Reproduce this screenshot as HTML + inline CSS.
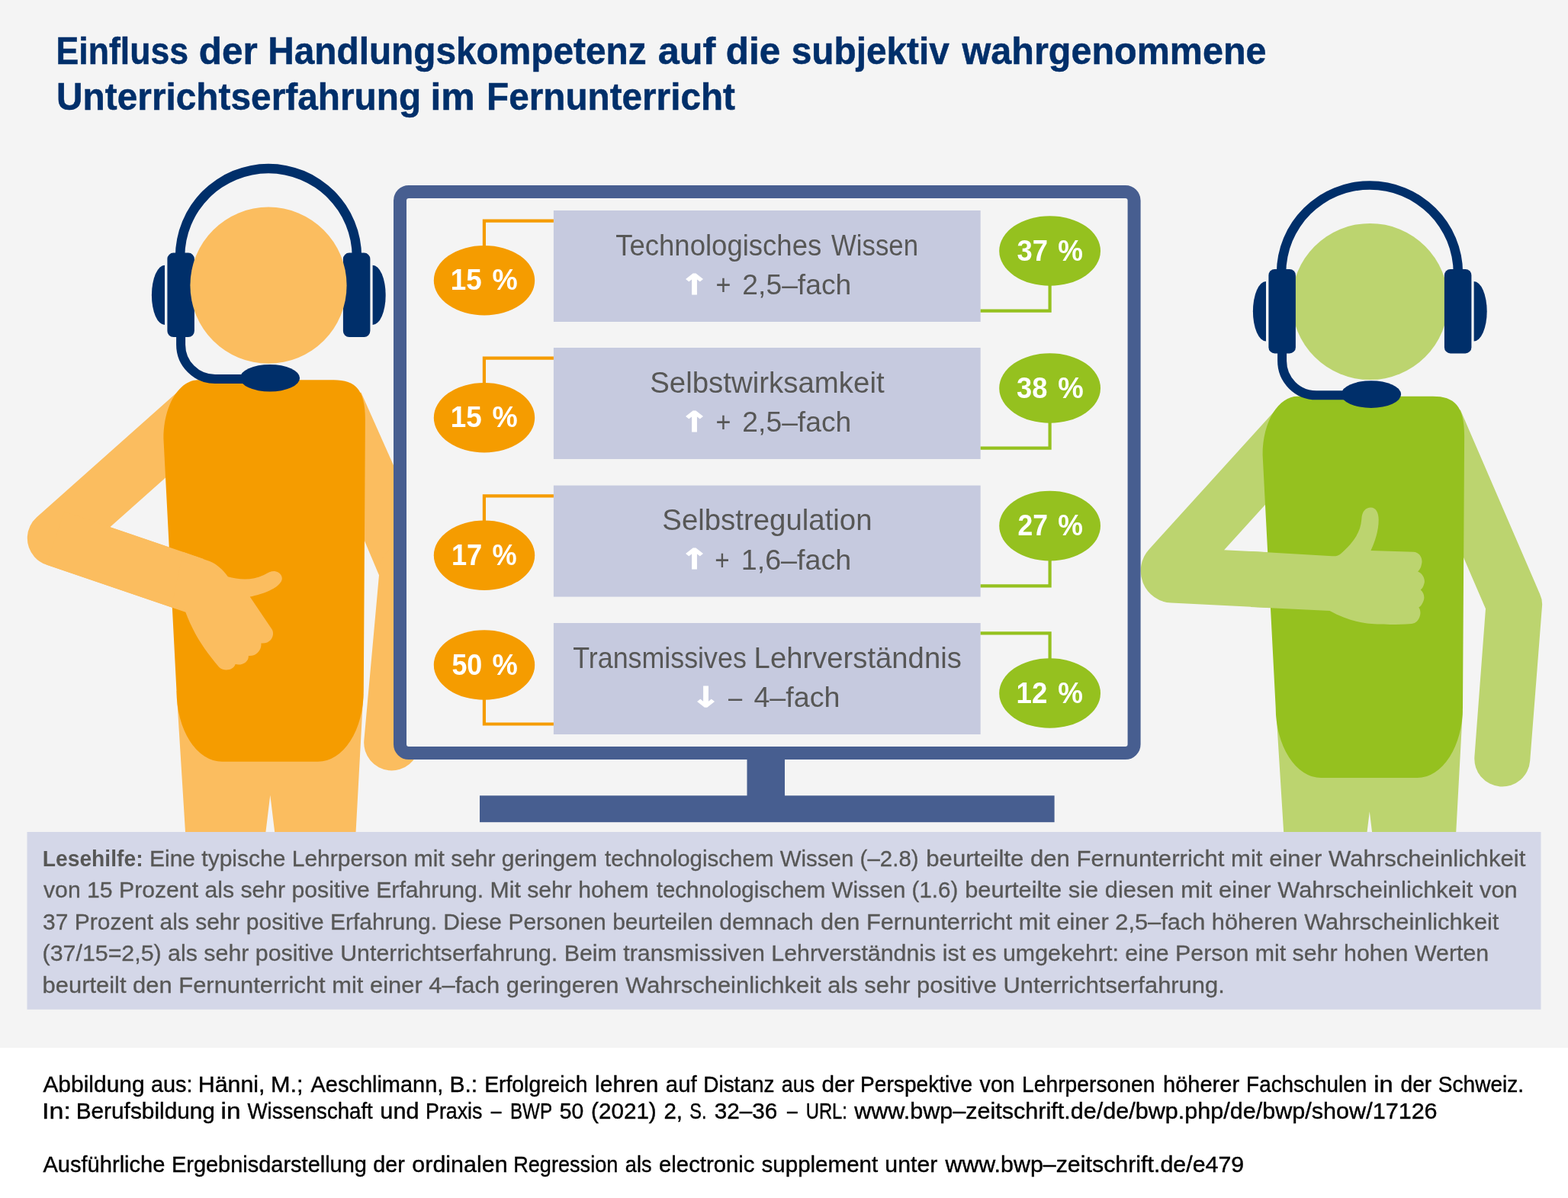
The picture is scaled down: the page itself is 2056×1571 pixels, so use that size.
<!DOCTYPE html>
<html lang="de">
<head>
<meta charset="utf-8">
<title>Einfluss der Handlungskompetenz auf die subjektiv wahrgenommene Unterrichtserfahrung im Fernunterricht</title>
<style>
html,body{margin:0;padding:0;background:#fff;}
body{width:2056px;height:1571px;overflow:hidden;position:relative;font-family:"Liberation Sans",sans-serif;}
svg{display:block;position:absolute;left:0;top:0;}
svg text{font-family:"Liberation Sans",sans-serif;white-space:pre;}
svg text.arr{font-family:"DejaVu Sans","Liberation Sans",sans-serif;font-weight:bold;fill:#fff;}
</style>
</head>
<body>
<svg width="2056" height="1571" viewBox="0 0 2056 1571">
<rect x="0" y="0" width="2056" height="1374" fill="#f4f4f4"/>

<g id="title">
<text y="83.9" font-size="50.2" font-weight="bold" fill="#002f6a" stroke="#002f6a" stroke-width="0.5"><tspan x="73.51" textLength="173.5" lengthAdjust="spacingAndGlyphs">Einfluss</tspan> <tspan x="260.75" textLength="77.05" lengthAdjust="spacingAndGlyphs">der</tspan> <tspan x="351.21" textLength="496.38" lengthAdjust="spacingAndGlyphs">Handlungskompetenz</tspan> <tspan x="862.71" textLength="75.55" lengthAdjust="spacingAndGlyphs">auf</tspan> <tspan x="951.75" textLength="71.58" lengthAdjust="spacingAndGlyphs">die</tspan> <tspan x="1037.71" textLength="207.09" lengthAdjust="spacingAndGlyphs">subjektiv</tspan> <tspan x="1261.56" textLength="398.95" lengthAdjust="spacingAndGlyphs">wahrgenommene</tspan></text>
<text y="143.8" font-size="50.2" font-weight="bold" fill="#002f6a" stroke="#002f6a" stroke-width="0.5"><tspan x="74.06" textLength="478.1" lengthAdjust="spacingAndGlyphs">Unterrichtserfahrung</tspan> <tspan x="564.38" textLength="58.27" lengthAdjust="spacingAndGlyphs">im</tspan> <tspan x="638.12" textLength="325.81" lengthAdjust="spacingAndGlyphs">Fernunterricht</tspan></text>
</g>
<g id="person-left">
<path d="M231.5 906L244.8 1120H344.9L354.3 1042.8L363.7 1120H465L476.4 910L440 900Z" fill="#fbbd5f"/>
<path d="M445 520L473.5 514.8L582.7 760L497 754.3L478.3 710.1L450 643Z" fill="#fbbd5f"/>
<path d="M534.1 748.2L513.6 974" fill="none" stroke="#fbbd5f" stroke-width="72.8" stroke-linecap="round"/>
<path d="M268.4 531.5L72.6 705.7L252.5 766.9" fill="none" stroke="#fbbd5f" stroke-width="73.6" stroke-linejoin="round"/>
<path d="M260 498.3H437.5C466 498.3 478.9 511 478.9 550L476.8 906.3A59.7 92.4 0 0 1 417.1 998.7H291A59.5 92.4 0 0 1 231.5 906.3L214.4 575C214.4 530 236 498.3 260 498.3Z" fill="#f59c00"/>
<path d="M72.6 705.7L255.1 767.8" fill="none" stroke="#fbbd5f" stroke-width="73.6"/>
<path d="M240 723.8L274.9 736.1C284 739.5 292 747 298.9 756.2C312 760 330 762 346 754C352 750.5 357 748.5 361 749.2C368 750.5 371.5 757 369 762C364 772 345 779 327.7 782.6L356.4 825C361 832 356 845 342.4 843.5C343.5 852 336 861 325.9 860C326 868 318 873 308.6 871.1C306 880 292 880.5 286.9 874.5C266.8 850.4 253.5 830.4 242.8 801.6L225 795.5Z" fill="#fbbd5f"/>
<g transform="translate(0,0)" fill="#002f6a"><path d="M229.8 340V337A122.2 122.2 0 0 1 474.2 337V340H461.7V337A109.7 109.7 0 0 0 242.3 337V340Z"/><rect x="219.4" y="331.6" width="35.5" height="110.5" rx="8" ry="8"/><rect x="449.9" y="331.6" width="35.5" height="110.5" rx="8" ry="8"/><path d="M216 347.8A17.1 39.15 0 0 0 216 426.1Z"/><path d="M488.6 347.8A17.1 39.15 0 0 1 488.6 426.1Z"/><path d="M237.1 438V452A45 45.05 0 0 0 282.1 497.05H330" fill="none" stroke="#002f6a" stroke-width="12"/><ellipse cx="353.85" cy="495.75" rx="39.25" ry="17.85"/></g>
<circle cx="352" cy="374.2" r="102.6" fill="#fbbd5f"/>
</g>
<g id="person-right">
<g transform="translate(1441.5,21.4)"><path d="M231.5 906L244.8 1120H344.9L354.3 1042.8L363.7 1120H465L476.4 910L440 900Z" fill="#bcd46f"/></g>
<path d="M1885 545L1914.9 537.5L2019.1 778.9Q2022.8 787 2022 795L2006.2 997.75A36.5 36.5 0 0 1 1933.4 992.25L1948 798.3L1919.8 732.8L1890 665Z" fill="#bcd46f"/>
<path d="M1700 545L1674 535.9L1506.6 720.4A42 42 0 0 0 1535.7 790.6L1745 801.1V728.3L1605.1 721.3L1665 655.2L1700 620Z" fill="#bcd46f"/>
<g transform="translate(1441.2,21.4)"><path d="M260 498.3H437.5C466 498.3 478.9 511 478.9 550L476.8 906.3A59.7 92.4 0 0 1 417.1 998.7H291A59.5 92.4 0 0 1 231.5 906.3L214.4 575C214.4 530 236 498.3 260 498.3Z" fill="#95c11f"/></g>
<path d="M1640 723.05L1746.6 729.2C1752 729.5 1754 728.8 1757 727C1772 714 1784 700 1785.3 681C1785.8 670 1791 665.4 1797.4 665.4C1804 665.4 1807.7 672 1807.7 681.4C1807.7 696 1803 710 1797.4 722L1853.1 723.8C1862 724 1866 733 1864 740C1863 745 1861 748 1859.1 749.4C1866 752 1869 760 1867.5 765C1866.5 769 1865 772 1862.7 773.4C1867 777 1868.5 783 1866.5 788C1865 792 1863 795 1860.3 796.6C1863 800 1863 806 1861 810C1859 815 1855 817.9 1850.6 817.9C1830 819.5 1805 819 1792.6 817.5C1775 815 1760 810 1743.6 801L1640 795.9Z" fill="#bcd46f"/>
<circle cx="1796.3" cy="395.5" r="102.6" fill="#bcd46f"/>
<g transform="translate(1444,21.3)" fill="#002f6a"><path d="M229.8 340V337A122.2 121.0 0 0 1 474.2 337V340H461.7V337A109.7 109.6 0 0 0 242.3 337V340Z"/><rect x="219.4" y="331.6" width="35.5" height="110.5" rx="8" ry="8"/><rect x="449.9" y="331.6" width="35.5" height="110.5" rx="8" ry="8"/><path d="M216 347.8A17.1 39.15 0 0 0 216 426.1Z"/><path d="M488.6 347.8A17.1 39.15 0 0 1 488.6 426.1Z"/><path d="M237.1 438V452A45 45.05 0 0 0 282.1 497.05H330" fill="none" stroke="#002f6a" stroke-width="12"/><ellipse cx="353.85" cy="495.75" rx="39.25" ry="17.85"/></g>
</g>
<g id="monitor">
<rect x="629" y="1043.3" width="753.6" height="34.9" fill="#475e90"/>
<rect x="979.5" y="990" width="49.5" height="56" fill="#475e90"/>
<rect x="524.5" y="251.5" width="962.6" height="736" rx="11.5" ry="11.5" fill="#f4f4f4" stroke="#475e90" stroke-width="17"/>
</g>
<g class="row">
<rect x="725.9" y="276" width="559.8" height="146" fill="#c6cadf"/>
<path d="M725.9 289.7H634.9V367.7" fill="none" stroke="#f59c00" stroke-width="4.2"/>
<path d="M1285.7 407.7H1376.6V329" fill="none" stroke="#95c11f" stroke-width="4.2"/>
<ellipse cx="635" cy="367.7" rx="66.2" ry="45.8" fill="#f59c00"/>
<ellipse cx="1376.6" cy="329" rx="66.4" ry="45.8" fill="#95c11f"/>
<text y="380.3" font-size="38.8" font-weight="bold" fill="#fff"><tspan x="590.8" textLength="40.92" lengthAdjust="spacingAndGlyphs">15</tspan> <tspan x="645.52" textLength="33.21" lengthAdjust="spacingAndGlyphs">%</tspan></text>
<text y="334.8" font-size="39" fill="#575756"><tspan x="807.23" textLength="270.01" lengthAdjust="spacingAndGlyphs">Technologisches</tspan> <tspan x="1090.1" textLength="113.85" lengthAdjust="spacingAndGlyphs">Wissen</tspan></text>
<text class="arr" transform="translate(890.8,385.7) scale(1.258,1)" font-size="37" stroke="#fff" stroke-width="1" stroke-linejoin="miter">↑</text>
<text y="385.9" font-size="37.5" fill="#575756"><tspan x="938.6" textLength="19.97" lengthAdjust="spacingAndGlyphs">+</tspan> <tspan x="973.35" textLength="142.94" lengthAdjust="spacingAndGlyphs">2,5–fach</tspan></text>
<text y="341.6" font-size="38.8" font-weight="bold" fill="#fff"><tspan x="1333.53" textLength="40.44" lengthAdjust="spacingAndGlyphs">37</tspan> <tspan x="1387.23" textLength="32.7" lengthAdjust="spacingAndGlyphs">%</tspan></text>
</g>
<g class="row">
<rect x="725.9" y="456" width="559.8" height="146" fill="#c6cadf"/>
<path d="M725.9 469.7H634.9V547.7" fill="none" stroke="#f59c00" stroke-width="4.2"/>
<path d="M1285.7 587.7H1376.6V509" fill="none" stroke="#95c11f" stroke-width="4.2"/>
<ellipse cx="635" cy="547.7" rx="66.2" ry="45.8" fill="#f59c00"/>
<ellipse cx="1376.6" cy="509" rx="66.4" ry="45.8" fill="#95c11f"/>
<text y="560.3" font-size="38.8" font-weight="bold" fill="#fff"><tspan x="590.8" textLength="40.92" lengthAdjust="spacingAndGlyphs">15</tspan> <tspan x="645.52" textLength="33.21" lengthAdjust="spacingAndGlyphs">%</tspan></text>
<text y="514.8" font-size="39" fill="#575756"><tspan x="852.2" textLength="307.47" lengthAdjust="spacingAndGlyphs">Selbstwirksamkeit</tspan></text>
<text class="arr" transform="translate(890.8,565.7) scale(1.258,1)" font-size="37" stroke="#fff" stroke-width="1" stroke-linejoin="miter">↑</text>
<text y="565.9" font-size="37.5" fill="#575756"><tspan x="938.6" textLength="19.97" lengthAdjust="spacingAndGlyphs">+</tspan> <tspan x="973.35" textLength="142.94" lengthAdjust="spacingAndGlyphs">2,5–fach</tspan></text>
<text y="521.6" font-size="38.8" font-weight="bold" fill="#fff"><tspan x="1333.03" textLength="40.37" lengthAdjust="spacingAndGlyphs">38</tspan> <tspan x="1387.21" textLength="33.52" lengthAdjust="spacingAndGlyphs">%</tspan></text>
</g>
<g class="row">
<rect x="725.9" y="636.6" width="559.8" height="146" fill="#c6cadf"/>
<path d="M725.9 650.3H634.9V728.3" fill="none" stroke="#f59c00" stroke-width="4.2"/>
<path d="M1285.7 768.3H1376.6V689.6" fill="none" stroke="#95c11f" stroke-width="4.2"/>
<ellipse cx="635" cy="728.3" rx="66.2" ry="45.8" fill="#f59c00"/>
<ellipse cx="1376.6" cy="689.6" rx="66.4" ry="45.8" fill="#95c11f"/>
<text y="740.9" font-size="38.8" font-weight="bold" fill="#fff"><tspan x="591.93" textLength="40.34" lengthAdjust="spacingAndGlyphs">17</tspan> <tspan x="645.53" textLength="32.18" lengthAdjust="spacingAndGlyphs">%</tspan></text>
<text y="695.4" font-size="39" fill="#575756"><tspan x="868.3" textLength="275.25" lengthAdjust="spacingAndGlyphs">Selbstregulation</tspan></text>
<text class="arr" transform="translate(890.8,746.3) scale(1.258,1)" font-size="37" stroke="#fff" stroke-width="1" stroke-linejoin="miter">↑</text>
<text y="746.5" font-size="37.5" fill="#575756"><tspan x="937.34" textLength="19.39" lengthAdjust="spacingAndGlyphs">+</tspan> <tspan x="971.74" textLength="144.57" lengthAdjust="spacingAndGlyphs">1,6–fach</tspan></text>
<text y="702.2" font-size="38.8" font-weight="bold" fill="#fff"><tspan x="1334.49" textLength="39.45" lengthAdjust="spacingAndGlyphs">27</tspan> <tspan x="1387.23" textLength="32.7" lengthAdjust="spacingAndGlyphs">%</tspan></text>
</g>
<g class="row">
<rect x="725.9" y="817" width="559.8" height="146" fill="#c6cadf"/>
<path d="M725.9 949.5H634.9V872" fill="none" stroke="#f59c00" stroke-width="4.2"/>
<path d="M1285.7 830.3H1376.6V909" fill="none" stroke="#95c11f" stroke-width="4.2"/>
<ellipse cx="635" cy="872" rx="66.2" ry="45.8" fill="#f59c00"/>
<ellipse cx="1376.6" cy="909" rx="66.4" ry="45.8" fill="#95c11f"/>
<text y="884.6" font-size="38.8" font-weight="bold" fill="#fff"><tspan x="592.44" textLength="39.81" lengthAdjust="spacingAndGlyphs">50</tspan> <tspan x="645.51" textLength="33.32" lengthAdjust="spacingAndGlyphs">%</tspan></text>
<text y="875.8" font-size="39" fill="#575756"><tspan x="751.24" textLength="227.58" lengthAdjust="spacingAndGlyphs">Transmissives</tspan> <tspan x="988.61" textLength="272.18" lengthAdjust="spacingAndGlyphs">Lehrverständnis</tspan></text>
<text class="arr" transform="translate(905.8,926.7) scale(1.258,1)" font-size="37" stroke="#fff" stroke-width="1" stroke-linejoin="miter">↓</text>
<text y="926.9" font-size="37.5" fill="#575756"><tspan x="954.9" textLength="18.19" lengthAdjust="spacingAndGlyphs">–</tspan> <tspan x="988.41" textLength="113.0" lengthAdjust="spacingAndGlyphs">4–fach</tspan></text>
<text y="921.6" font-size="38.8" font-weight="bold" fill="#fff"><tspan x="1332.61" textLength="40.81" lengthAdjust="spacingAndGlyphs">12</tspan> <tspan x="1387.23" textLength="32.7" lengthAdjust="spacingAndGlyphs">%</tspan></text>
</g>
<g id="lesehilfe">
<rect x="35.5" y="1091" width="1985" height="232.8" fill="#d4d7e8"/>
<text x="55.74" y="1135.8" font-size="29.3" font-weight="bold" fill="#575756" textLength="131.81" lengthAdjust="spacingAndGlyphs">Lesehilfe:</text>
<text y="1135.8" font-size="29.3" fill="#575756" stroke="#575756" stroke-width="0.3"><tspan x="195.96" textLength="587.0" lengthAdjust="spacingAndGlyphs">Eine typische Lehrperson mit sehr geringem</tspan> <tspan x="793.1" textLength="411.53" lengthAdjust="spacingAndGlyphs">technologischem Wissen (–2.8)</tspan> <tspan x="1214.25" textLength="786.14" lengthAdjust="spacingAndGlyphs">beurteilte den Fernunterricht mit einer Wahrscheinlichkeit</tspan></text>
<text y="1177.3" font-size="29.3" fill="#575756" stroke="#575756" stroke-width="0.3"><tspan x="57.0" textLength="793.56" lengthAdjust="spacingAndGlyphs">von 15 Prozent als sehr positive Erfahrung. Mit sehr hohem</tspan> <tspan x="860.7" textLength="395.63" lengthAdjust="spacingAndGlyphs">technologischem Wissen (1.6)</tspan> <tspan x="1265.17" textLength="724.56" lengthAdjust="spacingAndGlyphs">beurteilte sie diesen mit einer Wahrscheinlichkeit von</tspan></text>
<text y="1218.9" font-size="29.3" fill="#575756" stroke="#575756" stroke-width="0.3"><tspan x="56.06" textLength="1010.62" lengthAdjust="spacingAndGlyphs">37 Prozent als sehr positive Erfahrung. Diese Personen beurteilen demnach</tspan> <tspan x="1076.04" textLength="889.36" lengthAdjust="spacingAndGlyphs">den Fernunterricht mit einer 2,5–fach höheren Wahrscheinlichkeit</tspan></text>
<text y="1260.4" font-size="29.3" fill="#575756" stroke="#575756" stroke-width="0.3"><tspan x="55.58" textLength="1896.63" lengthAdjust="spacingAndGlyphs">(37/15=2,5) als sehr positive Unterrichtserfahrung. Beim transmissiven Lehrverständnis ist es umgekehrt: eine Person mit sehr hohen Werten</tspan></text>
<text y="1301.9" font-size="29.3" fill="#575756" stroke="#575756" stroke-width="0.3"><tspan x="55.57" textLength="1550.22" lengthAdjust="spacingAndGlyphs">beurteilt den Fernunterricht mit einer 4–fach geringeren Wahrscheinlichkeit als sehr positive Unterrichtserfahrung.</tspan></text>
</g>
<g id="footer">
<text y="1431.7" font-size="29.0" fill="#000" stroke="#000" stroke-width="0.4"><tspan x="56.4" textLength="133.28" lengthAdjust="spacingAndGlyphs">Abbildung</tspan> <tspan x="197.9" textLength="54.61" lengthAdjust="spacingAndGlyphs">aus:</tspan> <tspan x="259.73" textLength="87.84" lengthAdjust="spacingAndGlyphs">Hänni,</tspan> <tspan x="355.0" textLength="42.59" lengthAdjust="spacingAndGlyphs">M.;</tspan> <tspan x="407.5" textLength="173.86" lengthAdjust="spacingAndGlyphs">Aeschlimann,</tspan> <tspan x="589.45" textLength="36.77" lengthAdjust="spacingAndGlyphs">B.:</tspan> <tspan x="635.19" textLength="135.3" lengthAdjust="spacingAndGlyphs">Erfolgreich</tspan> <tspan x="780.13" textLength="83.25" lengthAdjust="spacingAndGlyphs">lehren</tspan> <tspan x="872.88" textLength="40.82" lengthAdjust="spacingAndGlyphs">auf</tspan> <tspan x="922.21" textLength="93.3" lengthAdjust="spacingAndGlyphs">Distanz</tspan> <tspan x="1024.76" textLength="43.38" lengthAdjust="spacingAndGlyphs">aus</tspan> <tspan x="1077.47" textLength="43.08" lengthAdjust="spacingAndGlyphs">der</tspan> <tspan x="1128.1" textLength="146.94" lengthAdjust="spacingAndGlyphs">Perspektive</tspan> <tspan x="1284.6" textLength="46.11" lengthAdjust="spacingAndGlyphs">von</tspan> <tspan x="1339.99" textLength="174.5" lengthAdjust="spacingAndGlyphs">Lehrpersonen</tspan> <tspan x="1524.98" textLength="100.16" lengthAdjust="spacingAndGlyphs">höherer</tspan> <tspan x="1634.12" textLength="158.04" lengthAdjust="spacingAndGlyphs">Fachschulen</tspan> <tspan x="1801.26" textLength="25.37" lengthAdjust="spacingAndGlyphs">in</tspan> <tspan x="1836.52" textLength="40.72" lengthAdjust="spacingAndGlyphs">der</tspan> <tspan x="1885.82" textLength="112.21" lengthAdjust="spacingAndGlyphs">Schweiz.</tspan></text>
<text y="1466.7" font-size="29.0" fill="#000" stroke="#000" stroke-width="0.4"><tspan x="55.04" textLength="37.83" lengthAdjust="spacingAndGlyphs">In:</tspan> <tspan x="99.67" textLength="182.3" lengthAdjust="spacingAndGlyphs">Berufsbildung</tspan> <tspan x="289.52" textLength="25.96" lengthAdjust="spacingAndGlyphs">in</tspan> <tspan x="324.5" textLength="164.31" lengthAdjust="spacingAndGlyphs">Wissenschaft</tspan> <tspan x="498.38" textLength="51.14" lengthAdjust="spacingAndGlyphs">und</tspan> <tspan x="558.11" textLength="74.33" lengthAdjust="spacingAndGlyphs">Praxis</tspan> <tspan x="643.7" textLength="13.74" lengthAdjust="spacingAndGlyphs">–</tspan> <tspan x="668.92" textLength="54.68" lengthAdjust="spacingAndGlyphs">BWP</tspan> <tspan x="733.82" textLength="31.49" lengthAdjust="spacingAndGlyphs">50</tspan> <tspan x="775.11" textLength="85.62" lengthAdjust="spacingAndGlyphs">(2021)</tspan> <tspan x="870.42" textLength="24.58" lengthAdjust="spacingAndGlyphs">2,</tspan> <tspan x="904.26" textLength="22.27" lengthAdjust="spacingAndGlyphs">S.</tspan> <tspan x="936.67" textLength="82.53" lengthAdjust="spacingAndGlyphs">32–36</tspan> <tspan x="1031.9" textLength="13.74" lengthAdjust="spacingAndGlyphs">–</tspan> <tspan x="1056.71" textLength="54.24" lengthAdjust="spacingAndGlyphs">URL:</tspan> <tspan x="1120.18" textLength="764.46" lengthAdjust="spacingAndGlyphs">www.bwp–zeitschrift.de/de/bwp.php/de/bwp/show/17126</tspan></text>
<text y="1536.8" font-size="29.0" fill="#000" stroke="#000" stroke-width="0.4"><tspan x="56.4" textLength="160.08" lengthAdjust="spacingAndGlyphs">Ausführliche</tspan> <tspan x="224.94" textLength="255.99" lengthAdjust="spacingAndGlyphs">Ergebnisdarstellung</tspan> <tspan x="489.3" textLength="41.44" lengthAdjust="spacingAndGlyphs">der</tspan> <tspan x="540.35" textLength="125.26" lengthAdjust="spacingAndGlyphs">ordinalen</tspan> <tspan x="673.18" textLength="137.14" lengthAdjust="spacingAndGlyphs">Regression</tspan> <tspan x="819.85" textLength="34.59" lengthAdjust="spacingAndGlyphs">als</tspan> <tspan x="864.09" textLength="125.27" lengthAdjust="spacingAndGlyphs">electronic</tspan> <tspan x="998.54" textLength="152.66" lengthAdjust="spacingAndGlyphs">supplement</tspan> <tspan x="1160.31" textLength="69.04" lengthAdjust="spacingAndGlyphs">unter</tspan> <tspan x="1239.47" textLength="391.76" lengthAdjust="spacingAndGlyphs">www.bwp–zeitschrift.de/e479</tspan></text>
</g>
</svg>
</body>
</html>
